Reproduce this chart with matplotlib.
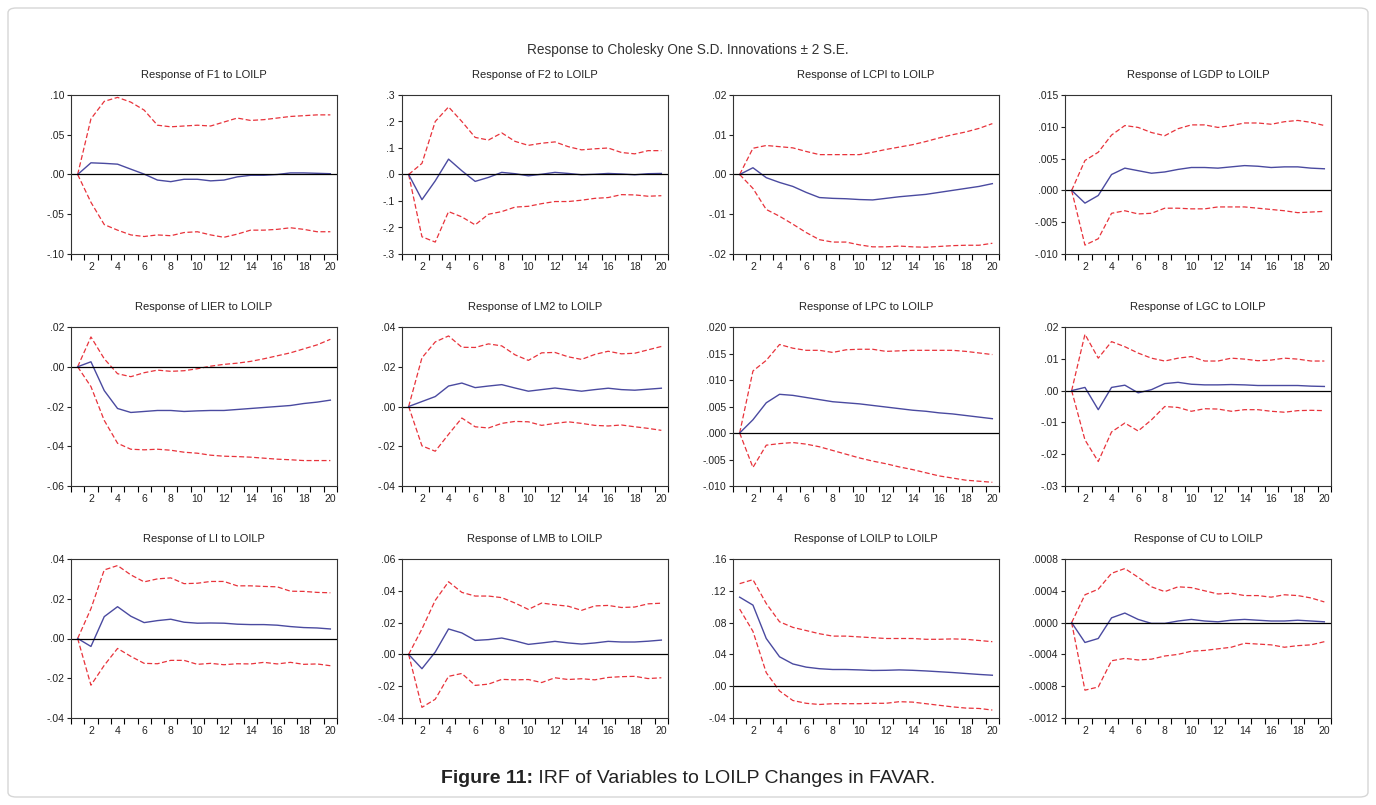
import numpy as np
import matplotlib.pyplot as plt
from matplotlib.patches import FancyBboxPatch

plt.rcParams['font.family'] = ['Liberation Sans', 'DejaVu Sans']

# Horizons 1..20
periods = np.arange(1, 21)

# Response of F1 to LOILP
f1_irf = [0, .0147, .014, .013, .0067, .0005, -.007, -.009, -.006, -.006,
          -.008, -.007, -.003, -.001, -.001, 0, .002, .002, .0015, .001]
f1_up = [0, .070, .092, .097, .091, .081, .062, .060, .061, .062,
         .061, .066, .071, .068, .069, .071, .073, .074, .075, .075]
f1_lo = [0, -.035, -.063, -.070, -.076, -.078, -.076, -.077, -.073, -.072,
         -.076, -.079, -.075, -.070, -.070, -.069, -.067, -.069, -.072, -.072]

# Response of F2 to LOILP
f2_irf = [0, -.095, -.024, .058, .014, -.026, -.011, .008, .003, -.005,
          .001, .008, .004, -.001, .001, .004, .002, -.001, .003, .004]
f2_up = [0, .042, .20, .255, .20, .14, .13, .157, .125, .11,
         .118, .123, .105, .093, .097, .10, .083, .078, .09, .09]
f2_lo = [0, -.235, -.255, -.14, -.16, -.19, -.15, -.14, -.123, -.12,
         -.11, -.102, -.102, -.097, -.09, -.087, -.076, -.077, -.082, -.08]

# Response of LCPI to LOILP
lcpi_irf = [0, .0017, -.0008, -.002, -.003, -.0045, -.0058, -.006, -.0061, -.0063,
            -.0064, -.006, -.0056, -.0053, -.005, -.0045, -.004, -.0035, -.003, -.0023]
lcpi_up = [0, .0066, .0073, .0070, .0067, .0058, .005, .005, .005, .005,
           .0056, .0063, .0069, .0075, .0083, .0092, .010, .0107, .0116, .0128]
lcpi_lo = [0, -.0035, -.0088, -.0105, -.0125, -.0146, -.0164, -.017, -.017, -.0177,
           -.0182, -.0182, -.018, -.0182, -.0183, -.0181, -.0179, -.0178, -.0178, -.0173]

# Response of LGDP to LOILP
lgdp_irf = [0, -.002, -.0008, .0025, .0035, .0031, .0027, .0029, .0033, .0036,
            .0036, .0035, .0037, .0039, .0038, .0036, .0037, .0037, .0035, .0034]
lgdp_up = [0, .0047, .006, .0087, .0102, .0099, .0091, .0086, .0097, .0103,
           .0103, .0099, .0102, .0106, .0106, .0104, .0108, .011, .0107, .0102]
lgdp_lo = [0, -.0086, -.0076, -.0036, -.0032, -.0037, -.0036, -.0028, -.0028, -.0029,
           -.0029, -.0026, -.0026, -.0026, -.0028, -.003, -.0032, -.0035, -.0034, -.0033]

# Response of LIER to LOILP
lier_irf = [0, .0025, -.012, -.021, -.023, -.0225, -.022, -.022, -.0225, -.0222,
            -.022, -.022, -.0215, -.021, -.0205, -.020, -.0195, -.0185, -.0178, -.0168]
lier_up = [0, .015, .004, -.0035, -.005, -.003, -.0017, -.0023, -.002, -.001,
           .0003, .0012, .0018, .0027, .004, .0055, .007, .009, .011, .0138]
lier_lo = [0, -.010, -.027, -.0385, -.0415, -.0418, -.0415, -.042, -.043, -.0435,
           -.0445, -.045, -.0452, -.0455, -.046, -.0465, -.0468, -.0472, -.0472, -.0472]

# Response of LM2 to LOILP
lm2_irf = [0, .0025, .005, .0103, .0118, .0095, .0103, .011, .0093, .0077,
           .0085, .0093, .0085, .0077, .0085, .0092, .0085, .0082, .0087, .0092]
lm2_up = [0, .0245, .0325, .0355, .0298, .0297, .0315, .0305, .026, .0232,
          .027, .0272, .025, .0237, .0262, .0278, .0265, .0268, .0285, .0302]
lm2_lo = [0, -.0198, -.0225, -.014, -.0058, -.0102, -.0108, -.0085, -.0075, -.0077,
          -.0095, -.0085, -.0077, -.0085, -.0095, -.0098, -.0093, -.0102, -.011, -.012]

# Response of LPC to LOILP
lpc_irf = [0, .0025, .0057, .0073, .0071, .0067, .0063, .0059, .0057, .0055,
           .0052, .0049, .0046, .0043, .0041, .0038, .0036, .0033, .003, .0027]
lpc_up = [0, .0117, .0137, .0167, .016, .0156, .0156, .0152, .0157, .0158,
          .0158, .0154, .0155, .0156, .0156, .0156, .0156, .0154, .0151, .0148]
lpc_lo = [0, -.0065, -.0023, -.002, -.0018, -.0021, -.0026, -.0033, -.004, -.0047,
          -.0053, -.0058, -.0064, -.0069, -.0075, -.0081, -.0085, -.0089, -.0091, -.0093]

# Response of LGC to LOILP
lgc_irf = [0, .001, -.006, .001, .0017, -.0007, .0003, .0022, .0026, .002,
           .0018, .0018, .0019, .0018, .0016, .0016, .0016, .0016, .0014, .0013]
lgc_up = [0, .0177, .0102, .0154, .0138, .0118, .0102, .0093, .0102, .0107,
          .0093, .0093, .0102, .0099, .0094, .0096, .0102, .0099, .0093, .0093]
lgc_lo = [0, -.0155, -.0223, -.013, -.0102, -.0127, -.0092, -.005, -.0053, -.0065,
          -.0057, -.0058, -.0065, -.006, -.006, -.0065, -.0068, -.0063, -.0062, -.0063]

# Response of LI to LOILP
li_irf = [0, -.004, .011, .016, .0112, .008, .009, .0097, .0082, .0077,
          .0078, .0077, .0072, .007, .007, .0067, .006, .0055, .0053, .0048]
li_up = [0, .015, .0345, .0367, .032, .0285, .030, .0305, .0276, .0278,
         .0287, .0287, .0265, .0265, .0262, .026, .0238, .0237, .0232, .023]
li_lo = [0, -.0235, -.0135, -.005, -.009, -.0125, -.0127, -.011, -.011, -.013,
         -.0125, -.0132, -.0127, -.0128, -.012, -.0128, -.012, -.013, -.0128, -.0137]

# Response of LMB to LOILP
lmb_irf = [0, -.009, .0015, .016, .0135, .0088, .0093, .0103, .0085, .0063,
           .0072, .0082, .0072, .0065, .0072, .0082, .0078, .0078, .0083, .009]
lmb_up = [0, .016, .034, .0457, .039, .0367, .0367, .0357, .0323, .0283,
          .0323, .0312, .0303, .0277, .0305, .0308, .0295, .0298, .0318, .0322]
lmb_lo = [0, -.0333, -.0282, -.0138, -.012, -.0195, -.0187, -.0157, -.016, -.0158,
          -.0177, -.0147, -.0158, -.0153, -.016, -.0145, -.014, -.0138, -.0152, -.0147]

# Response of LOILP to LOILP
loilp_irf = [.112, .102, .060, .037, .028, .024, .022, .021, .021, .0205,
             .0198, .020, .0205, .020, .0192, .0182, .0172, .016, .0148, .0138]
loilp_up = [.129, .134, .104, .081, .074, .070, .066, .063, .063, .062,
            .061, .060, .060, .060, .059, .059, .0595, .059, .0575, .056]
loilp_lo = [.097, .069, .017, -.006, -.018, -.0215, -.023, -.022, -.022, -.022,
            -.0215, -.0215, -.0195, -.020, -.022, -.024, -.026, -.0275, -.028, -.030]

# Response of CU to LOILP
cu_irf = [0, -.00025, -.0002, .00006, .00012, .00004, -.00001, -.00001, .00002, .00004,
          .00002, .00001, .00003, .00004, .00003, .00002, .00002, .00003, .00002, .00001]
cu_up = [0, .00035, .00042, .00062, .00068, .00057, .00045, .00039, .00045, .00044,
         .0004, .00036, .00037, .00034, .00034, .00032, .00035, .00034, .00031, .00026]
cu_lo = [0, -.00085, -.00081, -.00048, -.00045, -.00047, -.00046, -.00042, -.0004, -.00036,
         -.00035, -.00033, -.00031, -.00026, -.00027, -.00028, -.00031, -.00029, -.00028, -.00024]

variables = ['F1', 'F2', 'LCPI', 'LGDP', 'LIER', 'LM2', 'LPC', 'LGC',
             'LI', 'LMB', 'LOILP', 'CU']
responses = [f1_irf, f2_irf, lcpi_irf, lgdp_irf, lier_irf, lm2_irf, lpc_irf, lgc_irf,
             li_irf, lmb_irf, loilp_irf, cu_irf]
upper_bands = [f1_up, f2_up, lcpi_up, lgdp_up, lier_up, lm2_up, lpc_up, lgc_up,
               li_up, lmb_up, loilp_up, cu_up]
lower_bands = [f1_lo, f2_lo, lcpi_lo, lgdp_lo, lier_lo, lm2_lo, lpc_lo, lgc_lo,
               li_lo, lmb_lo, loilp_lo, cu_lo]

# y axis: (min, max, step, decimals)
y_scales = [(-.10, .10, .05, 2), (-.3, .3, .1, 1), (-.02, .02, .01, 2), (-.010, .015, .005, 3),
            (-.06, .02, .02, 2), (-.04, .04, .02, 2), (-.010, .020, .005, 3), (-.03, .02, .01, 2),
            (-.04, .04, .02, 2), (-.04, .06, .02, 2), (-.04, .16, .04, 2), (-.0012, .0008, .0004, 4)]


def eviews_fmt(v, dec):
    # EViews style labels: no leading zero, e.g. ".05", "-.10"
    s = f"{abs(v):.{dec}f}".lstrip('0')
    if round(v, dec + 1) < 0:
        s = '-' + s
    return s


W, H = 1376, 805
fig = plt.figure(figsize=(W / 100, H / 100), dpi=100)

# light outer frame
frame = FancyBboxPatch((8 / W, 8 / H), 1360 / W, 789 / H,
                       boxstyle="round,pad=0,rounding_size=0.006",
                       transform=fig.transFigure, fill=False,
                       edgecolor='#d6d6d6', linewidth=1.0)
fig.patches.append(frame)

col_left = [71, 402, 733, 1065]
row_top = [95, 327, 559]
ax_w, ax_h = 266, 159

red = '#e8333b'
blue = '#4a4aa0'

for i, var in enumerate(variables):
    r, c = divmod(i, 4)
    ax = fig.add_axes([col_left[c] / W, 1 - (row_top[r] + ax_h) / H, ax_w / W, ax_h / H])

    ax.plot(periods, upper_bands[i], color=red, linestyle=(0, (4, 2)), linewidth=0.9)
    ax.plot(periods, lower_bands[i], color=red, linestyle=(0, (4, 2)), linewidth=0.9)
    ax.plot(periods, responses[i], color=blue, linewidth=1.0)
    ax.axhline(0, color='black', linewidth=0.9)

    ymin, ymax, step, dec = y_scales[i]
    ax.set_ylim(ymin, ymax)
    yt = np.arange(ymin, ymax + step / 2, step)
    ax.set_yticks(yt)
    ax.set_yticklabels([eviews_fmt(v, dec) for v in yt])

    ax.set_xlim(0.5, 20.5)
    ax.set_xticks(np.arange(2, 21, 2))
    ax.set_xticks(np.arange(0.5, 21, 1), minor=True)
    ax.tick_params(axis='x', which='major', length=0, pad=6, labelsize=7.5, colors='#222222')
    ax.tick_params(axis='x', which='minor', length=4, width=0.8, direction='out')
    ax.tick_params(axis='y', length=3, width=0.8, direction='out', pad=2,
                   labelsize=7.5, colors='#222222')
    for sp in ax.spines.values():
        sp.set_linewidth(0.8)
        sp.set_color('#333333')

    ax.set_title(f'Response of {var} to LOILP', fontsize=8, pad=12, color='#222222')

fig.text(0.5, 1 - 50 / H, 'Response to Cholesky One S.D. Innovations \u00b1 2 S.E.',
         ha='center', va='center', fontsize=9.8, color='#333333')

# caption: bold label + normal text, centred as a whole
cap_y = 1 - 778 / H
cap_bold = fig.text(0, cap_y, 'Figure 11:', ha='left', va='center',
                    fontsize=14, fontweight='bold', color='#222222')
cap_rest = fig.text(0, cap_y, ' IRF of Variables to LOILP Changes in FAVAR.', ha='left',
                    va='center', fontsize=14, color='#222222')
renderer = fig.canvas.get_renderer()
wb = cap_bold.get_window_extent(renderer).width / W
wr = cap_rest.get_window_extent(renderer).width / W
x0 = 0.5 - (wb + wr) / 2
cap_bold.set_x(x0)
cap_rest.set_x(x0 + wb)

fig.savefig('out.png', dpi=100)
